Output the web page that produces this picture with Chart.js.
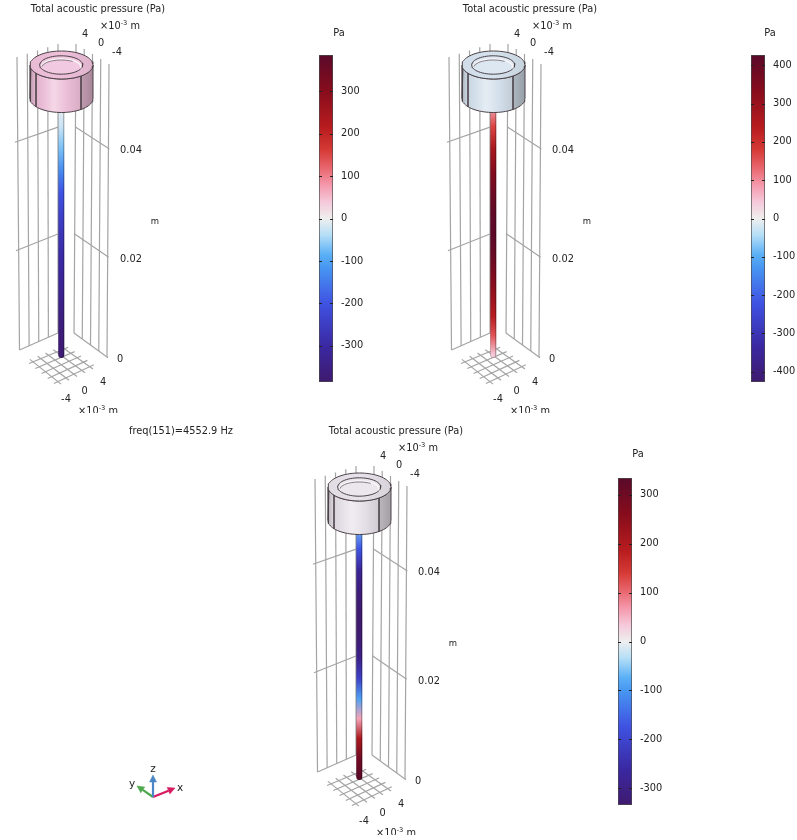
<!DOCTYPE html>
<html>
<head>
<meta charset="utf-8">
<title>Total acoustic pressure</title>
<script src="https://cdn.jsdelivr.net/npm/chart.js@4/dist/chart.umd.min.js"></script>
<style>
  html, body { margin: 0; padding: 0; background: #fff; }
  body { width: 797px; height: 840px; position: relative; overflow: hidden; font-family: "DejaVu Sans", sans-serif; color: #222; font-size: 9.8px; }
  #page { position: absolute; left: 0; top: 0; width: 797px; height: 840px; filter: blur(0.3px); }
  .box { position: absolute; overflow: hidden; }
  .box canvas { position: absolute; left: 0; top: 0; }
  .txt { position: absolute; white-space: nowrap; transform: translate(-50%, -50%); line-height: 1; }
  .txt sup { font-size: 0.68em; line-height: 0; vertical-align: 0.55em; }
</style>
</head>
<body>
<div id="page"></div>
<script>
// Axis ticks of the 3D view
const horizontalTicks = [-4, -2, 0, 2, 4]; // x and y, in mm
const labelledTicks = [-4, 0, 4];
const heightTicks = [0, 0.02, 0.04]; // z, in m
const zTop = 0.0546;

const tubeHeights = [0, 0.004, 0.008, 0.012, 0.016, 0.02, 0.024, 0.028, 0.032, 0.036, 0.04, 0.044, 0.048];
const tubePressure1 = [-375, -370, -355, -335, -315, -295, -270, -240, -200, -130, -70, -25, 0];
const tubePressure2 = [40, 150, 240, 300, 350, 395, 420, 415, 385, 340, 270, 170, 60];
const tubePressure3 = [330, 295, 205, 60, -90, -215, -300, -330, -335, -320, -280, -170, -60];

// Colour bars
const barRange1 = 385;
const barRange2 = 427;
const barRange3 = 334;
const barTicks1 = [-300, -200, -100, 0, 100, 200, 300];
const barTicks2 = [-400, -300, -200, -100, 0, 100, 200, 300, 400];
const barTicks3 = [-300, -200, -100, 0, 100, 200, 300];

// Surface colour of the cylinder in each plot
const cylinderColor1 = '#efc0da';
const cylinderColor2 = '#d6e3ee';
const cylinderColor3 = '#e8e3ea';

const titleText = 'Total acoustic pressure (Pa)';
const freqText = 'freq(151)=4552.9 Hz';
const unitHtml = '×10<sup>-3</sup> m';

// Wave colour table, position is pressure / range
const waveTable = [
  [-1, '#3f1a6e'], [-0.78, '#3a28a2'], [-0.52, '#3f52e2'], [-0.3, '#4796f2'], [-0.22, '#5bb0f6'],
  [-0.1, '#b6dff7'], [0, '#eeeeee'], [0.1, '#f5c9da'], [0.2, '#f59aae'], [0.3, '#ea6a72'],
  [0.42, '#d63a36'], [0.55, '#b91d1f'], [0.78, '#870c1c'], [1, '#5a0a2a']
];

// Light across the cylinder body, position 0..1 and brightness
const bodyShade = [[0, 0.78], [0.07, 0.93], [0.2, 0.98], [0.38, 1.12], [0.6, 0.98], [0.8, 0.9], [0.82, 0.8], [1, 0.7]];

const page = document.getElementById('page');

function hexRgb(hex) {
  return [1, 3, 5].map(i => parseInt(hex.substr(i, 2), 16));
}

// k below 1 darkens, k above 1 mixes towards white
function shadeColor(hex, k) {
  const c = hexRgb(hex).map(v => Math.round(k <= 1 ? v * k : v + (255 - v) * (k - 1) * 3));
  return `rgb(${c[0]},${c[1]},${c[2]})`;
}

function waveColor(v) {
  const t = Math.max(-1, Math.min(1, v));
  for (let i = 1; i < waveTable.length; i++) {
    if (t <= waveTable[i][0]) {
      const a = waveTable[i - 1], b = waveTable[i];
      const f = (t - a[0]) / (b[0] - a[0]);
      const ca = hexRgb(a[1]), cb = hexRgb(b[1]);
      return ca.map((q, j) => Math.round(q + (cb[j] - q) * f));
    }
  }
  return hexRgb(waveTable[waveTable.length - 1][1]);
}

// ---- projection of the view onto the 172 x 413 scene ----

// how far up the walls a height sits, the view has a little perspective
function heightPixels(z) {
  const t = z / 0.02;
  return 95 * t + 4 * t * t;
}

function heightFraction(z) {
  return heightPixels(z) / heightPixels(zTop);
}

function bilinear(c, u, f) {
  const bx = c.bl[0] + (c.br[0] - c.bl[0]) * u, by = c.bl[1] + (c.br[1] - c.bl[1]) * u;
  const tx = c.tl[0] + (c.tr[0] - c.tl[0]) * u, ty = c.tl[1] + (c.tr[1] - c.tl[1]) * u;
  return { x: bx + (tx - bx) * f, y: by + (ty - by) * f };
}

const leftWall = { tl: [17, 57], tr: [58, 44], bl: [19.5, 350], br: [58, 333] };
const rightWall = { tl: [76, 44], tr: [109, 64], bl: [74, 333], br: [107, 357] };
const floorGrid = { tl: [26, 361], tr: [65, 345], bl: [57, 386], br: [97, 367] };

function tickPos(v) {
  return (v + 4) / 8;
}

function floorPos(v) {
  return (v + 5) / 10;
}

function ellipse(cx, cy, rx, ry, from, to, n) {
  const pts = [];
  for (let i = 0; i <= n; i++) {
    const a = from + (to - from) * i / n;
    pts.push({ x: cx + rx * Math.cos(a), y: cy + ry * Math.sin(a) });
  }
  return pts;
}

function lineSet(data, color, width) {
  return { data: data, borderColor: color, borderWidth: width, showLine: true, pointRadius: 0, clip: false };
}

function gridSets() {
  const sets = [];
  const grey = '#a4a4a4';
  horizontalTicks.forEach(v => {
    const u = tickPos(v);
    sets.push(lineSet([bilinear(leftWall, u, 0), bilinear(leftWall, u, 1)], grey, 1.2));
    sets.push(lineSet([bilinear(rightWall, u, 0), bilinear(rightWall, u, 1)], grey, 1.2));
    sets.push(lineSet([bilinear(floorGrid, floorPos(v), 0), bilinear(floorGrid, floorPos(v), 1)], grey, 1.2));
    sets.push(lineSet([bilinear(floorGrid, 0, floorPos(v)), bilinear(floorGrid, 1, floorPos(v))], grey, 1.2));
  });
  heightTicks.forEach(z => {
    const f = heightFraction(z);
    sets.push(lineSet([bilinear(leftWall, z === 0 ? 0 : -0.07, f), bilinear(leftWall, 1, f)], grey, 1.2));
    sets.push(lineSet([bilinear(rightWall, 0, f), bilinear(rightWall, 1.03, f)], grey, 1.2));
  });
  return sets;
}

const tubeX = 61.3;
const tubeBase = 355;

// Gradient along the tube built from the pressure readings
function tubeGradient(context, pressure, range, k) {
  const chart = context.chart;
  if (!chart.chartArea) return '#888';
  const yScale = chart.scales.y;
  const top = heightPixels(tubeHeights[tubeHeights.length - 1]);
  const g = chart.ctx.createLinearGradient(0, yScale.getPixelForValue(tubeBase), 0, yScale.getPixelForValue(tubeBase - top));
  tubeHeights.forEach((z, i) => {
    const c = waveColor(pressure[i] / range).map(q => Math.round(q * k));
    g.addColorStop(heightPixels(z) / top, `rgb(${c[0]},${c[1]},${c[2]})`);
  });
  return g;
}

function tubeSets(pressure, range) {
  const points = dx => tubeHeights.map(z => ({ x: tubeX + dx, y: tubeBase - heightPixels(z) }));
  const outer = lineSet(points(0), ctx => tubeGradient(ctx, pressure, range, 0.7), 6);
  const inner = lineSet(points(-0.3), ctx => tubeGradient(ctx, pressure, range, 1), 4.4);
  outer.borderCapStyle = 'round';
  inner.borderCapStyle = 'round';
  return [outer, inner];
}

function cylinderSets(color) {
  const cx = 61.5, rx = 31.5, topY = 65, botY = 98.5, ry = 14;
  const edge = '#4a4046';
  const sets = [];
  // body: front of the bottom rim, then back along the front of the top rim
  const body = ellipse(cx, botY, rx, ry, Math.PI, 0, 40).concat(ellipse(cx, topY, rx, ry, 0, Math.PI, 40));
  body.push(body[0]);
  const bodySet = lineSet(body, edge, 1);
  bodySet.bodyFill = bodyShade.map(s => [s[0], shadeColor(color, s[1])]);
  sets.push(bodySet);
  // seams
  sets.push(lineSet([{ x: cx - 25.5, y: topY + 8.2 }, { x: cx - 25.5, y: botY + 8.2 }], edge, 0.8));
  sets.push(lineSet([{ x: cx + 19.5, y: topY + 11 }, { x: cx + 19.5, y: botY + 11 }], edge, 0.8));
  // top ring
  const ring = lineSet(ellipse(cx, topY, rx, ry, 0, Math.PI * 2, 80), edge, 1);
  ring.bodyFill = [[0, shadeColor(color, 0.97)], [0.5, shadeColor(color, 1)], [1, shadeColor(color, 0.93)]];
  sets.push(ring);
  // hole in the ring with its lip
  const hole = lineSet(ellipse(cx - 0.3, topY, 21.5, 9.2, 0, Math.PI * 2, 60), edge, 1);
  hole.bodyFill = [[0, shadeColor(color, 1.05)], [1, shadeColor(color, 1.05)]];
  sets.push(hole);
  sets.push(lineSet(ellipse(cx - 0.3, topY + 1.6, 19.5, 7.6, Math.PI * 1.02, Math.PI * 1.98, 30), '#f9f7f8', 1.4));
  sets.push(lineSet(ellipse(cx - 0.3, topY + 2.6, 19.5, 7.6, Math.PI * 1.05, Math.PI * 1.7, 30), '#6a6066', 0.8));
  return sets;
}

// Fills closed line datasets with a left to right gradient
const bodyFillPlugin = {
  id: 'bodyFill',
  beforeDatasetDraw(chart, args) {
    const ds = chart.data.datasets[args.index];
    if (!ds.bodyFill) return;
    const pts = args.meta.data;
    const xs = pts.map(p => p.x);
    const g = chart.ctx.createLinearGradient(Math.min(...xs), 0, Math.max(...xs), 0);
    ds.bodyFill.forEach(s => g.addColorStop(s[0], s[1]));
    const c = chart.ctx;
    c.save();
    c.beginPath();
    pts.forEach((p, i) => i ? c.lineTo(p.x, p.y) : c.moveTo(p.x, p.y));
    c.closePath();
    c.fillStyle = g;
    c.fill();
    c.restore();
  }
};

function addBox(left, top, width, height) {
  const box = document.createElement('div');
  box.className = 'box';
  box.style.cssText = `left:${left}px;top:${top}px;width:${width}px;height:${height}px`;
  page.appendChild(box);
  return box;
}

function addText(parent, html, x, y) {
  const el = document.createElement('span');
  el.className = 'txt';
  el.style.left = x + 'px';
  el.style.top = y + 'px';
  el.innerHTML = html;
  parent.appendChild(el);
  return el;
}

function pixelScales(width, height) {
  return {
    x: { type: 'linear', display: false, min: 0, max: width },
    y: { type: 'linear', display: false, min: 0, max: height, reverse: true }
  };
}

function drawScene(left, top, pressure, range, color) {
  const box = addBox(left, top, 172, 413);
  const canvas = document.createElement('canvas');
  canvas.style.width = '172px';
  canvas.style.height = '413px';
  box.appendChild(canvas);

  const sets = gridSets().concat(tubeSets(pressure, range), cylinderSets(color));
  // later sets on top
  sets.forEach((s, i) => { s.order = -i; });

  new Chart(canvas, {
    type: 'scatter',
    data: { datasets: sets },
    plugins: [bodyFillPlugin],
    options: {
      responsive: false,
      animation: false,
      layout: { padding: 0 },
      plugins: { legend: { display: false }, tooltip: { enabled: false } },
      scales: pixelScales(172, 413)
    }
  });

  addText(box, titleText, 98, 9);
  addText(box, unitHtml, 120, 26);
  addText(box, unitHtml, 98, 411);
  labelledTicks.forEach((v, i) => {
    addText(box, String(v), 117 - 16 * i, 52 - 9 * i);
    addText(box, String(v), 66 + 18.5 * i, 399 - 8.5 * i);
  });
  heightTicks.forEach(z => {
    const p = bilinear(rightWall, 1, heightFraction(z));
    addText(box, String(z), z === 0 ? 120 : 131, p.y + 2);
  });
  addText(box, 'm', 155, 221).style.fontSize = '8.5px';
}

function drawColorBar(left, top, range, ticks) {
  const box = addBox(left, top, 62, 340);
  const canvas = document.createElement('canvas');
  canvas.style.width = '62px';
  canvas.style.height = '340px';
  box.appendChild(canvas);

  new Chart(canvas, {
    type: 'bar',
    data: {
      labels: ['Pa'],
      datasets: [{
        data: [[-range, range]],
        borderColor: '#4a4a4a',
        borderWidth: 1,
        borderSkipped: false,
        barPercentage: 1,
        categoryPercentage: 1,
        backgroundColor(ctx) {
          const area = ctx.chart.chartArea;
          if (!area) return '#ccc';
          const g = ctx.chart.ctx.createLinearGradient(0, area.bottom, 0, area.top);
          waveTable.forEach(s => {
            const c = hexRgb(s[1]);
            g.addColorStop((s[0] + 1) / 2, `rgb(${c[0]},${c[1]},${c[2]})`);
          });
          return g;
        }
      }]
    },
    plugins: [{
      id: 'barTicks',
      afterDatasetsDraw(chart) {
        const c = chart.ctx, area = chart.chartArea;
        c.save();
        c.strokeStyle = '#222';
        c.lineWidth = 1.2;
        ticks.forEach(v => {
          const y = Math.round(chart.scales.y.getPixelForValue(v)) + 0.5;
          c.beginPath();
          c.moveTo(area.left, y);
          c.lineTo(area.left + 3, y);
          c.moveTo(area.right - 3, y);
          c.lineTo(area.right, y);
          c.stroke();
        });
        c.restore();
      }
    }],
    options: {
      responsive: false,
      animation: false,
      layout: { padding: { top: 6, bottom: 7, left: 1, right: 0 } },
      plugins: { legend: { display: false }, tooltip: { enabled: false } },
      scales: {
        x: { display: false },
        y: {
          position: 'right',
          min: -range,
          max: range,
          grid: { display: false, drawTicks: false },
          border: { display: false },
          afterBuildTicks(scale) { scale.ticks = ticks.map(v => ({ value: v })); },
          afterFit(scale) {
            scale.width = 47;
            scale.paddingTop = 0;
            scale.paddingBottom = 0;
          },
          ticks: {
            autoSkip: false,
            padding: 8,
            color: '#222',
            font: { family: 'DejaVu Sans', size: 9.8 }
          }
        }
      }
    }
  });
}

function drawTriad() {
  // axis directions of the orientation triad, in pixels from its origin
  const axisNames = ['z', 'y', 'x'];
  const axisDx = [0, -16, 22];
  const axisDy = [-22, -11, -9];
  const axisColors = ['#4a86c5', '#4fa84f', '#d81b60'];
  const ox = 33, oy = 37;
  const box = addBox(120, 760, 70, 45);
  const canvas = document.createElement('canvas');
  canvas.style.width = '70px';
  canvas.style.height = '45px';
  box.appendChild(canvas);

  const sets = [];
  axisNames.forEach((name, i) => {
    const tip = { x: ox + axisDx[i], y: oy + axisDy[i] };
    const len = Math.hypot(axisDx[i], axisDy[i]);
    const ux = axisDx[i] / len, uy = axisDy[i] / len;
    const neck = { x: tip.x - ux * 7, y: tip.y - uy * 7 };
    sets.push(lineSet([{ x: ox, y: oy }, neck], axisColors[i], 2.2));
    const head = lineSet([
      tip,
      { x: neck.x - uy * 3.5, y: neck.y + ux * 3.5 },
      { x: neck.x + uy * 3.5, y: neck.y - ux * 3.5 },
      tip
    ], axisColors[i], 0.5);
    head.bodyFill = [[0, axisColors[i]], [1, axisColors[i]]];
    sets.push(head);
  });

  new Chart(canvas, {
    type: 'scatter',
    data: { datasets: sets },
    plugins: [bodyFillPlugin],
    options: {
      responsive: false,
      animation: false,
      plugins: { legend: { display: false }, tooltip: { enabled: false } },
      scales: pixelScales(70, 45)
    }
  });

  addText(box, axisNames[0], 33, 8).style.fontSize = '10.5px';
  addText(box, axisNames[1], 12, 23).style.fontSize = '10.5px';
  addText(box, axisNames[2], 60, 27).style.fontSize = '10.5px';
}

// ---- the three plots ----
drawScene(0, 0, tubePressure1, barRange1, cylinderColor1);
drawScene(432, 0, tubePressure2, barRange2, cylinderColor2);
drawScene(298, 422, tubePressure3, barRange3, cylinderColor3);

drawColorBar(318, 49, barRange1, barTicks1);
drawColorBar(750, 49, barRange2, barTicks2);
drawColorBar(617, 471.5, barRange3, barTicks3);

addText(page, 'Pa', 339, 33);
addText(page, 'Pa', 770, 33);
addText(page, 'Pa', 638, 454);
addText(page, freqText, 181, 431);

drawTriad();
</script>
</body>
</html>
